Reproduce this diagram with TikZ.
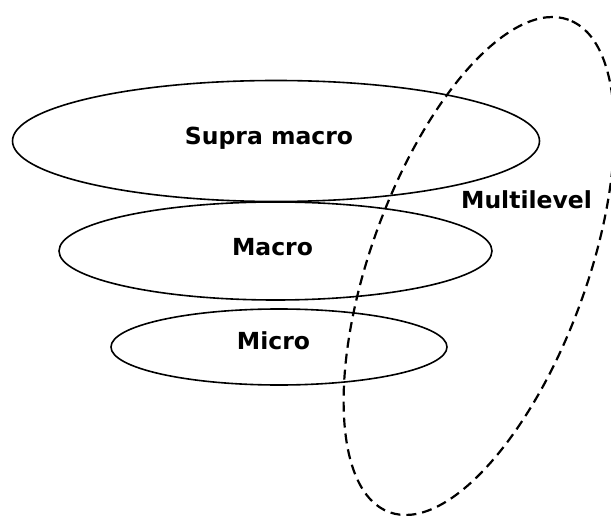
\documentclass[tikz,border=0pt]{standalone}
\usepackage{fontspec}
\setmainfont{DejaVu Sans}
\usetikzlibrary{shapes.geometric}
\tikzset{
  level/.style={draw, ellipse, line width=1.6pt, inner sep=0pt},
  lbl/.style={font=\bfseries\fontsize{23.5}{28}\selectfont, inner sep=0pt},
  multi/.style={draw, ellipse, line width=2.2pt, dash pattern=on 10pt off 6pt, inner sep=0pt}
}
\begin{document}
\begin{tikzpicture}[x=1pt,y=-1pt]
\useasboundingbox (0,0) rectangle (611,516);
\node[level, minimum width=527pt, minimum height=121pt] (supra) at (276,141) {};
\node[level, minimum width=433pt, minimum height=98pt] (macro) at (275.5,251) {};
\node[level, minimum width=336pt, minimum height=76pt] (micro) at (279,347) {};
\node[multi, minimum width=524pt, minimum height=216pt, rotate=70] (ml) at (479,266) {};
\node[lbl] (tsupra) at (269,138) {Supra macro};
\node[lbl] (tmacro) at (272.5,247) {Macro};
\node[lbl] (tmicro) at (273.5,341) {Micro};
\node[lbl] (tml) at (526.5,200) {Multilevel};
\end{tikzpicture}
\end{document}
